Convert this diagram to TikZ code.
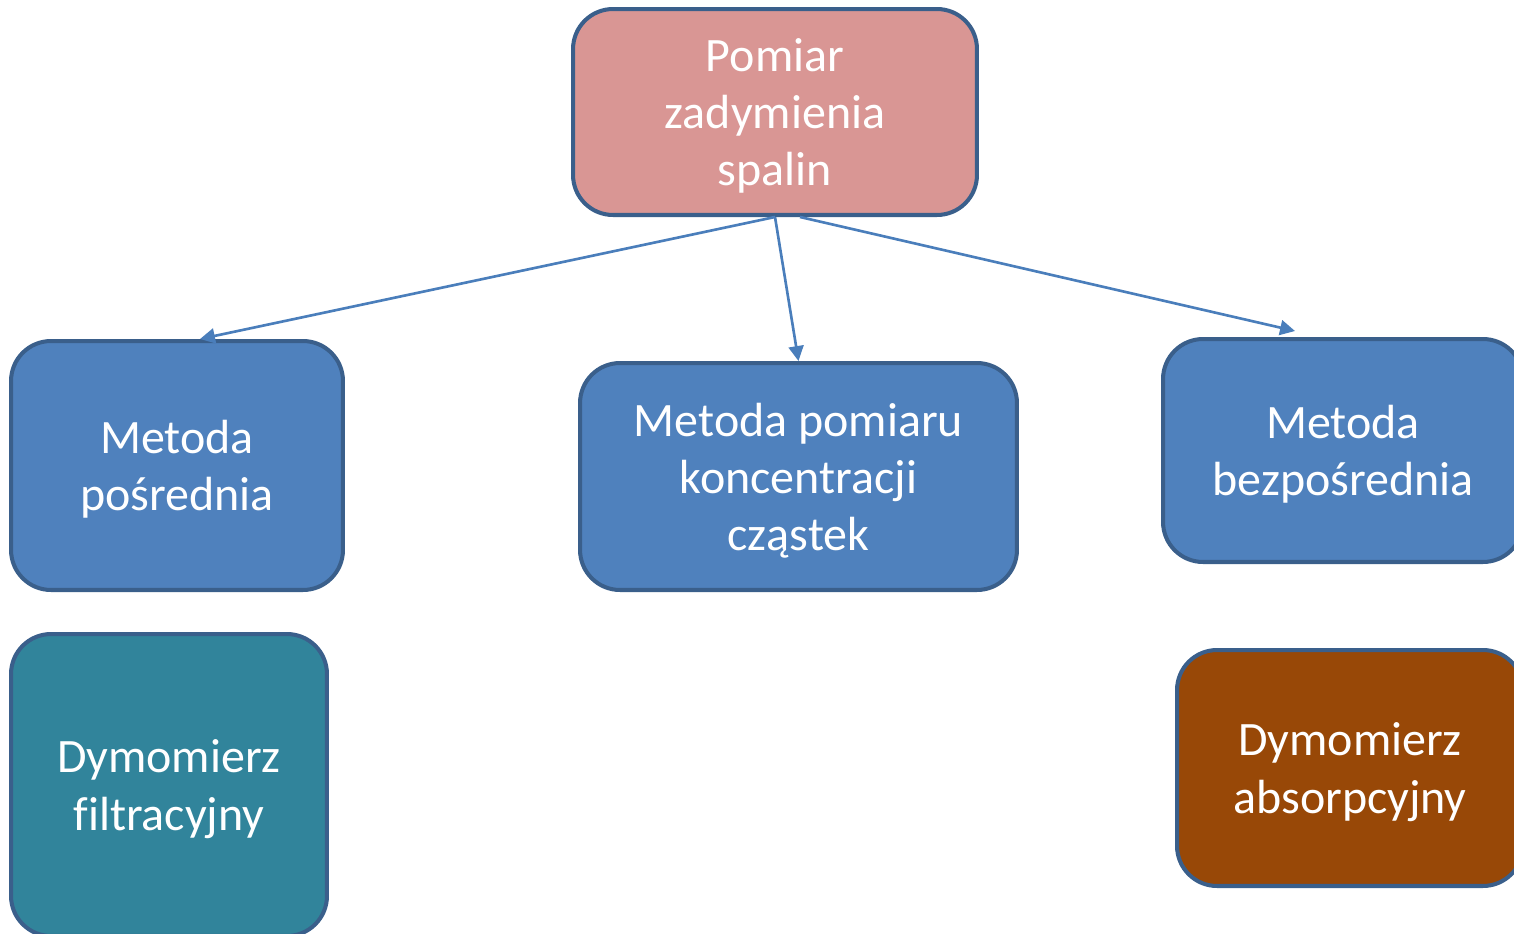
\documentclass[tikz,border=0pt]{standalone}
\usepackage{fontspec}
\setmainfont{Carlito}[Ligatures=CommonOff]
\usetikzlibrary{arrows.meta}
\definecolor{boxblue}{HTML}{4F81BD}
\definecolor{boxline}{HTML}{3A5F8B}
\definecolor{boxpink}{HTML}{D99694}
\definecolor{boxteal}{HTML}{31849B}
\definecolor{boxbrown}{HTML}{984807}
\definecolor{arrowblue}{HTML}{4A7EBB}
\begin{document}
\begin{tikzpicture}[x=0.02cm,y=-0.02cm,
  box/.style={draw=boxline,line width=2.3pt,rounded corners=0.8cm,
    text=white,align=center,inner sep=0pt,text depth=0pt,
    font=\fontsize{27.3}{32.5}\selectfont},
  link/.style={draw=arrowblue,line width=1.5pt,-{Triangle[length=8.5pt,width=8.5pt]}}]
\useasboundingbox (0,0) rectangle (1514,933);
\clip (0,0) rectangle (1514,933);
\node[box,fill=boxpink,minimum width=8.08cm,minimum height=4.12cm] (pomiar) at (775,112) {Pomiar\\zadymienia\\spalin};
\node[box,fill=boxblue,minimum width=6.64cm,minimum height=4.98cm] (posrednia) at (177,465.5) {Metoda\\pośrednia};
\node[box,fill=boxblue,minimum width=8.74cm,minimum height=4.54cm] (koncentracja) at (798.5,476.5) {Metoda pomiaru\\koncentracji\\cząstek};
\node[box,fill=boxblue,minimum width=7.2cm,minimum height=4.46cm] (bezposrednia) at (1343,450.5) {Metoda\\bezpośrednia};
\node[box,fill=boxteal,minimum width=6.32cm,minimum height=6.04cm] (filtracyjny) at (169,785) {Dymomierz\\filtracyjny};
\node[box,fill=boxbrown,minimum width=6.92cm,minimum height=4.72cm] (absorpcyjny) at (1350,768) {Dymomierz\\absorpcyjny};
\draw[link] (pomiar.south) -- ([xshift=0.46cm]posrednia.north);
\draw[link] (pomiar.south) -- (koncentracja.north);
\draw[link] ([xshift=0.5cm]pomiar.south) -- ([xshift=-0.96cm,yshift=0.12cm]bezposrednia.north);
\end{tikzpicture}
\end{document}
